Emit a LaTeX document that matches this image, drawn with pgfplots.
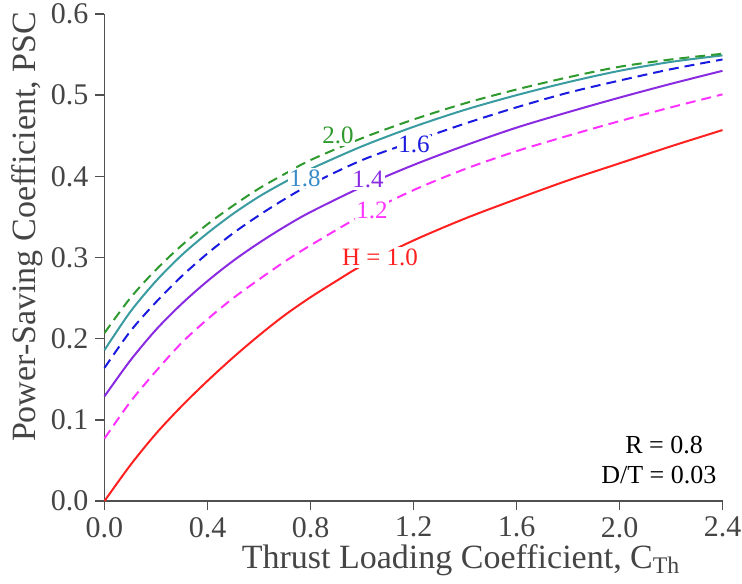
\documentclass[border=0pt]{standalone}
\usepackage{fontspec}
\setmainfont{Liberation Serif}
\usepackage{pgfplots}
\pgfplotsset{compat=1.18}

\definecolor{cgreen}{HTML}{2E9A2E}
\definecolor{cteal}{HTML}{3A9CA0}
\definecolor{ctealtxt}{HTML}{3A8CC8}
\definecolor{cblue}{HTML}{1A1AE0}
\definecolor{cpurple}{HTML}{8A2BE2}
\definecolor{cmag}{HTML}{FF33FF}
\definecolor{cred}{HTML}{FF2020}
\definecolor{axgray}{HTML}{505050}
\definecolor{txtgray}{HTML}{454545}

\begin{document}
\begin{tikzpicture}
\begin{axis}[
    scale only axis,
    width=309pt, height=243.5pt,
    xmin=0, xmax=2.4, ymin=0, ymax=0.6,
    axis x line*=bottom, axis y line*=left,
    axis line style={axgray, line width=0.8pt},
    xtick={0,0.4,...,2.4}, ytick={0,0.1,...,0.6},
    tick align=outside, major tick length=4.5pt,
    tick style={axgray, line width=0.8pt},
    /pgf/number format/assume math mode=true,
    xticklabel style={/pgf/number format/.cd, fixed, fixed zerofill, precision=1},
    yticklabel style={/pgf/number format/.cd, fixed, fixed zerofill, precision=1},
    ticklabel style={font=\fontsize{15}{17}\selectfont, text=txtgray},
    every axis x label/.style={at={(axis description cs:0.577,-0.122)}, anchor=center},
    every axis y label/.style={at={(axis description cs:-0.125,0.563)}, rotate=90, anchor=center},
    label style={font=\fontsize{17}{19}\selectfont, text=txtgray},
    xlabel={Thrust Loading Coefficient, C\textsubscript{Th}},
    ylabel={Power-Saving Coefficient, PSC},
    every axis plot/.append style={smooth, line width=1pt},
    clip=false,
]
% H = 1.0
\addplot[cred] coordinates {
(0,0) (0.1,0.044) (0.2,0.083) (0.3,0.117) (0.4,0.148) (0.5,0.177) (0.6,0.204)
(0.7,0.229) (0.8,0.251) (0.9,0.271) (1.0,0.290) (1.2,0.321) (1.4,0.348)
(1.6,0.372) (1.8,0.395) (2.0,0.416) (2.2,0.437) (2.4,0.457)};
% H = 1.2
\addplot[cmag, dash pattern=on 5pt off 3pt] coordinates {
(0,0.077) (0.1,0.122) (0.2,0.160) (0.3,0.195) (0.4,0.224) (0.5,0.250) (0.6,0.273)
(0.7,0.295) (0.8,0.315) (1.0,0.352) (1.2,0.383) (1.4,0.409) (1.6,0.431)
(1.8,0.450) (2.0,0.468) (2.2,0.485) (2.4,0.501)};
% H = 1.4
\addplot[cpurple] coordinates {
(0,0.129) (0.1,0.173) (0.2,0.211) (0.3,0.243) (0.4,0.271) (0.5,0.296) (0.6,0.318)
(0.7,0.338) (0.8,0.356) (1.0,0.387) (1.2,0.414) (1.4,0.438) (1.6,0.460)
(1.8,0.479) (2.0,0.497) (2.2,0.514) (2.4,0.530)};
% H = 1.6
\addplot[cblue, dash pattern=on 5pt off 3pt] coordinates {
(0,0.164) (0.1,0.209) (0.2,0.245) (0.3,0.277) (0.4,0.305) (0.5,0.330) (0.6,0.352)
(0.7,0.372) (0.8,0.390) (1.0,0.420) (1.2,0.443) (1.4,0.465) (1.6,0.485)
(1.8,0.503) (2.0,0.518) (2.2,0.532) (2.4,0.544)};
% H = 1.8
\addplot[cteal] coordinates {
(0,0.186) (0.1,0.233) (0.2,0.271) (0.3,0.303) (0.4,0.330) (0.5,0.354) (0.6,0.375)
(0.7,0.393) (0.8,0.409) (1.0,0.437) (1.2,0.461) (1.4,0.482) (1.6,0.500)
(1.8,0.516) (2.0,0.530) (2.2,0.541) (2.4,0.549)};
% H = 2.0
\addplot[cgreen, dash pattern=on 5pt off 3pt] coordinates {
(0,0.207) (0.1,0.250) (0.2,0.285) (0.3,0.315) (0.4,0.341) (0.5,0.364) (0.6,0.385)
(0.7,0.403) (0.8,0.420) (1.0,0.447) (1.2,0.470) (1.4,0.490) (1.6,0.507)
(1.8,0.522) (2.0,0.535) (2.2,0.544) (2.4,0.551)};

\begin{scope}[every node/.style={fill=white, inner sep=0.8pt, font=\fontsize{12.5}{15}\selectfont}]
\node[text=cgreen] at (axis cs:0.907,0.450) {2.0};
\node[text=ctealtxt] at (axis cs:0.779,0.398) {1.8};
\node[text=cblue] at (axis cs:1.202,0.439) {1.6};
\node[text=cpurple] at (axis cs:1.023,0.396) {1.4};
\node[text=cmag] at (axis cs:1.039,0.358) {1.2};
\node[text=cred] at (axis cs:1.070,0.300) {H = 1.0};
\end{scope}
\node[font=\fontsize{13}{15}\selectfont, text=black] at (axis cs:2.173,0.069) {R = 0.8};
\node[font=\fontsize{13}{15}\selectfont, text=black] at (axis cs:2.153,0.032) {D/T = 0.03};
\end{axis}
\pgfresetboundingbox
\path[use as bounding box] (-52.25pt,-41pt) rectangle (318.75pt,250.5pt);
\end{tikzpicture}
\end{document}
